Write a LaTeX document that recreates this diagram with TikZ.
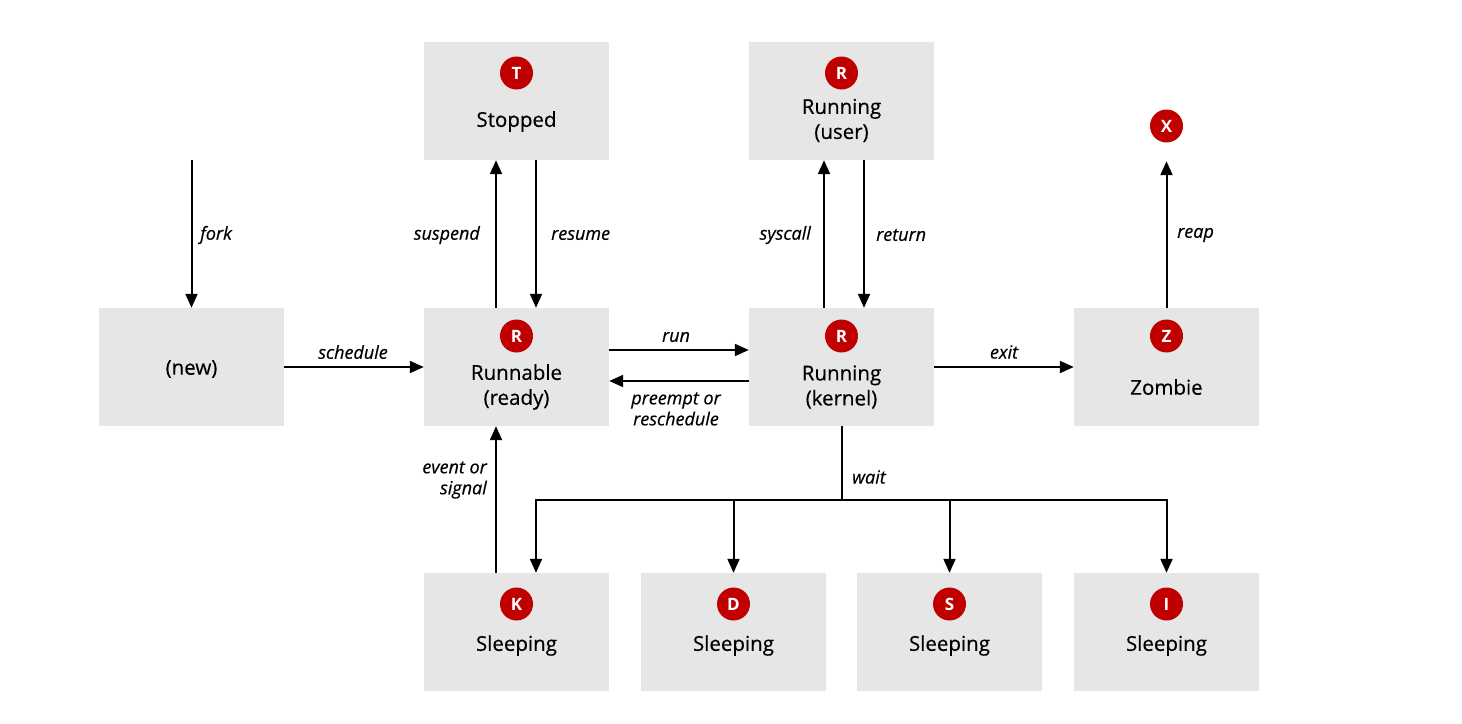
\documentclass[tikz,border=0pt]{standalone}
\usepackage{fontspec}
\setmainfont{Open Sans}
\newfontfamily\medfont{Open Sans}[FakeBold=0.4]
\usetikzlibrary{arrows.meta}
\definecolor{boxgray}{HTML}{E6E6E6}
\definecolor{rhred}{HTML}{C00000}
\tikzset{
  box/.style={rectangle, fill=boxgray, minimum width=185pt, minimum height=118pt, inner sep=0pt},
  badge/.style={circle, fill=rhred, minimum size=33pt, inner sep=0pt, text=white, font=\fontsize{17}{17}\selectfont\bfseries},
  title/.style={align=center, font=\medfont\fontsize{20.5}{25}\selectfont, inner sep=0pt},
  lbl/.style={font=\medfont\fontsize{18}{21}\selectfont\itshape, inner sep=0pt, align=center},
  arr/.style={line width=2pt, -{Triangle[length=14pt,width=12pt]}},
  ln/.style={line width=2pt}
}
\begin{document}
\begin{tikzpicture}[x=1pt,y=-1pt]
\useasboundingbox (0,0) rectangle (1462,723);
% boxes
\node[box] (stopped) at (516.5,101) {};
\node[box] (ruser) at (841.5,101) {};
\node[box] (new) at (191.5,367) {};
\node[box] (runnable) at (516.5,367) {};
\node[box] (rkernel) at (841.5,367) {};
\node[box] (zombie) at (1166.5,367) {};
\node[box] (sk) at (516.5,632) {};
\node[box] (sd) at (733.5,632) {};
\node[box] (ss) at (949.5,632) {};
\node[box] (si) at (1166.5,632) {};
% badges
\node[badge] (bt) at (516.5,73) {T};
\node[badge] (bru) at (841.5,73) {R};
\node[badge] (bx) at (1166.5,126) {X};
\node[badge] (br) at (516.5,336) {R};
\node[badge] (brk) at (841.5,336) {R};
\node[badge] (bz) at (1166.5,336) {Z};
\node[badge] (bk) at (516.5,604) {K};
\node[badge] (bd) at (733.5,604) {D};
\node[badge] (bs) at (949.5,604) {S};
\node[badge] (bi) at (1166.5,604) {I};
% titles
\node[title] (tstopped) at (516.5,121.5) {Stopped};
\node[title] (truser) at (841.5,120.5) {Running\\(user)};
\node[title] (tnew) at (191.5,369) {(new)};
\node[title] (trunnable) at (516.5,387) {Runnable\\(ready)};
\node[title] (trkernel) at (841.5,387) {Running\\(kernel)};
\node[title] (tzombie) at (1166.5,387) {Zombie};
\node[title] (tsk) at (516.5,645.5) {Sleeping};
\node[title] (tsd) at (733.5,645.5) {Sleeping};
\node[title] (tss) at (949.5,645.5) {Sleeping};
\node[title] (tsi) at (1166.5,645.5) {Sleeping};
% fork
\coordinate (forkstart) at (191.5,160);
\draw[arr] (forkstart) -- (new.north);
\node[lbl, anchor=west] (lfork) at (200,235) {fork};
% suspend / resume
\draw[arr] ([xshift=-20.5pt]runnable.north) -- ([xshift=-20.5pt]stopped.south);
\draw[arr] ([xshift=19.5pt]stopped.south) -- ([xshift=19.5pt]runnable.north);
\node[lbl, anchor=east] (lsuspend) at (480,235) {suspend};
\node[lbl, anchor=west] (lresume) at (551,235) {resume};
% syscall / return
\draw[arr] ([xshift=-17.5pt]rkernel.north) -- ([xshift=-17.5pt]ruser.south);
\draw[arr] ([xshift=22.5pt]ruser.south) -- ([xshift=22.5pt]rkernel.north);
\node[lbl, anchor=east] (lsyscall) at (811,235) {syscall};
\node[lbl, anchor=west] (lreturn) at (876,235) {return};
% reap
\draw[arr] (zombie.north) -- ([yshift=-18.5pt]bx.south);
\node[lbl, anchor=west] (lreap) at (1177,235) {reap};
% schedule
\draw[arr] (new.east) -- (runnable.west);
\node[lbl] (lschedule) at (353,352) {schedule};
% run / preempt
\draw[arr] ([yshift=17pt]runnable.east) -- ([yshift=17pt]rkernel.west);
\draw[arr] ([yshift=-14pt]rkernel.west) -- ([yshift=-14pt]runnable.east);
\node[lbl] (lrun) at (676,337) {run};
\node[lbl] (lpreempt) at (676,409) {preempt or\\reschedule};
% exit
\draw[arr] (rkernel.east) -- (zombie.west);
\node[lbl] (lexit) at (1004,352) {exit};
% event or signal
\draw[arr] ([xshift=-20.5pt]sk.north) -- ([xshift=-20.5pt]runnable.south);
\node[lbl, anchor=east, align=right] (levent) at (487,480) {event or\\signal};
% wait
\coordinate (wj) at (841.5,500);
\draw[ln] (rkernel.south) -- (wj);
\draw[arr] (wj) -| ([xshift=19.5pt]sk.north);
\draw[arr] (wj) -| (sd.north);
\draw[arr] (wj) -| (ss.north);
\draw[arr] (wj) -| (si.north);
\node[lbl, anchor=west] (lwait) at (852,477) {wait};
\end{tikzpicture}
\end{document}
